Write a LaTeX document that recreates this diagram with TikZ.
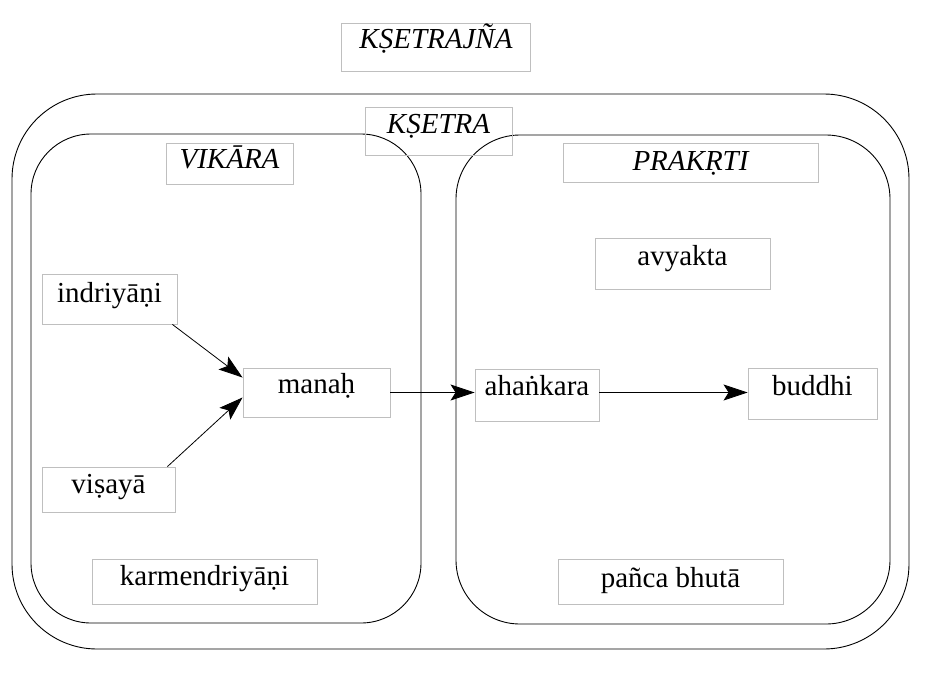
\documentclass[tikz,border=0pt]{standalone}
\usepackage{fontspec}
\setmainfont{Liberation Serif}
\usetikzlibrary{arrows.meta,calc}
\begin{document}
\begin{tikzpicture}[x=1pt,y=-1pt,
  frame/.style={draw=black,line width=0.9pt},
  lbl/.style={draw=black!25,line width=0.9pt,inner sep=0pt,
    font=\fontsize{29}{34}\selectfont,text depth=0pt,text height=4pt},
  bl/.style={text height=#1},
  ital/.style={font=\fontsize{29}{34}\selectfont\itshape},
  arr/.style={line width=0.8pt,-{Stealth[length=24pt,width=16pt,inset=5pt]}}]
\useasboundingbox[fill=white] (0,0) rectangle (930,673);
\draw[frame,rounded corners=85pt] (12,94) rectangle (909,649);
\draw[frame,rounded corners=60pt] (31,134) rectangle (421,623);
\draw[frame,rounded corners=64pt] (456,135) rectangle (890,624);

\node[lbl,ital,bl=2pt,minimum width=189pt,minimum height=48pt] (ksj) at (436,47) {KṢETRAJÑA};
\node[lbl,ital,bl=4pt,minimum width=147pt,minimum height=48pt] (ks) at (438.5,131) {KṢETRA};
\node[lbl,ital,bl=9pt,minimum width=127pt,minimum height=41pt] (vik) at (229.5,163.5) {VIKĀRA};
\node[lbl,ital,bl=15pt,minimum width=255pt,minimum height=39pt] (pra) at (690.5,162.5) {PRAKṚTI};
\node[lbl,bl=3pt,minimum width=175pt,minimum height=51pt] (avy) at (682.5,263.5) {avyakta};
\node[lbl,bl=6pt,minimum width=135pt,minimum height=50pt] (ind) at (109.5,299) {indriyāṇi};
\node[lbl,bl=1pt,minimum width=147pt,minimum height=49pt] (man) at (316.5,392.5) {manaḥ};
\node[lbl,bl=7pt,minimum width=133pt,minimum height=45pt] (vis) at (108.5,489.5) {viṣayā};
\node[lbl,bl=0pt,minimum width=124pt,minimum height=52pt] (aha) at (537,395) {ahaṅkara};
\node[lbl,bl=3pt,minimum width=129pt,minimum height=51pt] (bud) at (812.5,393.5) {buddhi};
\node[lbl,bl=11pt,minimum width=225pt,minimum height=45pt] (pan) at (670.5,581.5) {pañca bhutā};
\node[lbl,bl=7pt,minimum width=225pt,minimum height=45pt] (kar) at (204.5,581.5) {karmendriyāṇi};

\draw[arr] ($(ind.south east)+(-5,0)$) -- ($(man.north west)!0.2!(man.south west)$);
\draw[arr] ($(vis.north east)+(-8,0)$) -- ($(man.north west)!0.6!(man.south west)$);
\draw[arr] (man.east) -- (man.east -| aha.west);
\draw[arr] (man.east -| aha.east) -- (man.east -| bud.west);
\end{tikzpicture}
\end{document}
